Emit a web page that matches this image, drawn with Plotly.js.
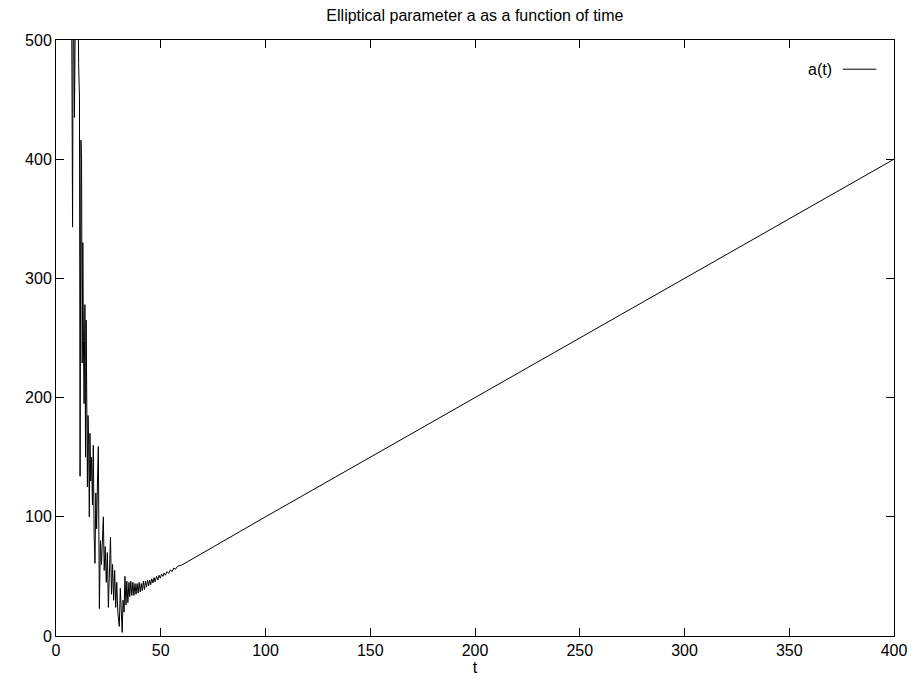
<!DOCTYPE html>
<html>
<head>
<meta charset="utf-8">
<script src="https://cdn.plot.ly/plotly-3.0.1.min.js"></script>
<style>
  html, body { margin: 0; padding: 0; background: #fff; }
  #chart { width: 915px; height: 685px; }
</style>
</head>
<body>
<div id="chart"></div>
<script>
// Time values (t)
const tValues = [
  7.0, 7.5, 7.9, 8.3, 8.8, 9.3, 9.8, 10.3, 10.8, 11.2,
  11.5, 11.9, 12.2, 12.5, 12.8, 13.1, 13.4, 13.8, 14.1, 14.4,
  14.7, 15.0, 15.3, 15.6, 15.9, 16.2, 16.6, 17.0, 17.4, 17.8,
  18.2, 18.6, 19.0, 19.4, 19.8, 20.2, 20.7, 21.2, 21.7, 22.1,
  22.6, 23.0, 23.5, 24.0, 24.5, 25.0, 25.5, 26.0, 26.5, 27.0,
  27.5, 28.0, 28.5, 29.0, 29.5, 30.2, 30.7, 31.1, 31.6, 32.0,
  32.5, 32.9, 33.4, 33.8, 34.3, 34.8, 35.2, 35.7, 36.2, 36.7,
  37.2, 37.7, 38.2, 38.7, 39.2, 39.7, 40.2, 40.7, 41.2, 41.7,
  42.2, 42.7, 43.2, 43.7, 44.2, 44.7, 45.2, 45.7, 46.3, 46.8,
  47.3, 48.0, 48.6, 49.2, 49.8, 50.4, 51.0, 51.6, 52.2, 53.0,
  53.8, 54.6, 55.4, 56.2, 57.0, 58.0, 60.0, 100, 150, 200,
  250, 300, 350, 400
];
// Elliptical parameter a(t)
const aValues = [
  620, 520, 343, 580, 435, 540, 510, 600, 480, 452,
  134, 416, 400, 229, 330, 248, 195, 278, 150, 265,
  176, 125, 185, 160, 100, 170, 130, 150, 110, 160,
  85, 61, 120, 90, 130, 159, 23, 80, 60, 85,
  100, 55, 75, 45, 70, 24, 60, 83, 35, 60,
  30, 55, 24, 45, 20, 8, 40, 15, 3, 30,
  20, 50, 26, 46, 28, 45, 33, 46, 34, 45,
  34, 44, 35, 44, 36, 45, 37, 44, 38, 46,
  39, 46, 41, 47, 42, 47, 43, 48, 44.5, 49,
  45.5, 50, 47, 51, 48.5, 52, 50, 53, 51, 54,
  52.5, 55.5, 54, 57, 56, 58.5, 59.5, 100, 150, 200,
  250, 300, 350, 400
];
const xTickVals = [0, 50, 100, 150, 200, 250, 300, 350, 400];
const yTickVals = [0, 100, 200, 300, 400, 500];
const seriesName = 'a(t)';

const FONT = 'Liberation Sans, Arial, Helvetica, sans-serif';

const trace = {
  x: tValues,
  y: aValues,
  type: 'scatter',
  mode: 'lines',
  name: seriesName,
  line: { color: '#000000', width: 1 },
  showlegend: false
};

const axisCommon = {
  showgrid: false,
  zeroline: false,
  showline: true,
  linecolor: '#000000',
  linewidth: 1,
  mirror: 'allticks',
  ticks: 'inside',
  ticklen: 8,
  tickcolor: '#000000',
  tickwidth: 1,
  tickfont: { family: FONT, size: 16, color: '#000000' }
};

const layout = {
  width: 915,
  height: 685,
  margin: { l: 56, r: 21, t: 40, b: 49, pad: 0 },
  paper_bgcolor: '#ffffff',
  plot_bgcolor: '#ffffff',
  font: { family: FONT, size: 16, color: '#000000' },
  title: {
    text: 'Elliptical parameter a as a function of time',
    font: { family: FONT, size: 16, color: '#000000' },
    x: 0.519, xanchor: 'center',
    y: 0.978, yanchor: 'middle', yref: 'container'
  },
  xaxis: Object.assign({}, axisCommon, {
    range: [0, 400],
    tickvals: xTickVals,
    ticktext: xTickVals.map(String),
    title: { text: 't', font: { family: FONT, size: 16, color: '#000000' }, standoff: 2 }
  }),
  yaxis: Object.assign({}, axisCommon, {
    range: [0, 500],
    tickvals: yTickVals,
    ticktext: yTickVals.map(String)
  }),
  showlegend: false,
  annotations: [{
    text: seriesName,
    xref: 'paper', yref: 'paper',
    x: 0.928, y: 0.951,
    xanchor: 'right', yanchor: 'middle',
    showarrow: false,
    font: { family: FONT, size: 16, color: '#000000' }
  }],
  shapes: [{
    type: 'line',
    xref: 'paper', yref: 'paper',
    x0: 0.939, x1: 0.979, y0: 0.951, y1: 0.951,
    line: { color: '#000000', width: 1 }
  }]
};

Plotly.newPlot('chart', [trace], layout, { displayModeBar: false, staticPlot: true });
</script>
</body>
</html>
